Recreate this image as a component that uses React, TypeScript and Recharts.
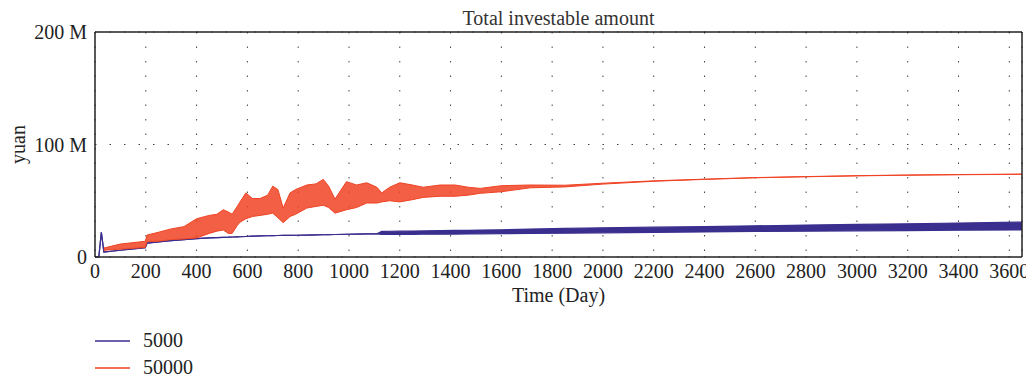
import {AreaChart, Area, XAxis, YAxis, CartesianGrid, Legend} from 'recharts';

// days, values in millions of yuan (low / high of the oscillation band)
const days = [
    0, 15, 25, 35, 100, 198, 205, 250, 300, 350,
    400, 450, 480, 505, 525, 540, 560, 571, 594, 620,
    650, 680, 700, 720, 741, 768, 790, 834, 870, 899,
    920, 945, 990, 1030, 1070, 1110, 1129, 1160, 1200, 1250,
    1292, 1359, 1418, 1470, 1517, 1600, 1713, 1850, 2000, 2200,
    2400, 2600, 2800, 3000, 3200, 3400, 3650,
];
const blueLow = [
    0, 0, 22, 4.4, 6, 8.3, 12.4, 13.5, 14.5, 15.5,
    16.4, 17, 17.3, 17.5, 17.6, 17.8, 17.9, 18, 18.2, 18.5,
    18.7, 18.9, 19, 19.1, 19.2, 19.3, 19.35, 19.5, 19.6, 19.8,
    19.9, 20, 20.2, 20.35, 20.5, 20.6, 20, 20.05, 20.1, 20.15,
    20.2, 20.3, 20.4, 20.5, 20.6, 20.8, 21, 21.2, 21.5, 21.9,
    22.3, 22.7, 23, 23.3, 23.5, 23.8, 24,
];
const blueHigh = [
    0, 0, 22, 4.4, 6, 8.3, 12.4, 13.5, 14.5, 15.5,
    16.4, 17, 17.3, 17.5, 17.6, 17.8, 17.9, 18, 18.2, 18.5,
    18.7, 18.9, 19, 19.1, 19.2, 19.3, 19.35, 19.5, 19.6, 19.8,
    19.9, 20, 20.2, 20.35, 20.5, 20.6, 22.8, 22.9, 23, 23.1,
    23.2, 23.4, 23.6, 23.75, 23.9, 24.2, 24.8, 25.4, 26, 26.5,
    27, 27.7, 28.4, 29, 29.5, 30.2, 31,
];
const redLow = [
    null, null, null, 6, 7, 8.5, 13.6, 14, 15.5, 16,
    17, 21, 23, 24, 21, 21, 28, 31, 34, 36,
    37, 38, 39, 35, 30.5, 36, 38, 43.5, 45, 46,
    44, 39, 42, 44, 48, 48, 49, 50, 49, 51,
    53, 54, 54, 55, 56.6, 58, 61.5, 62.3, 64.8, 67.3,
    69, 70.4, 71.3, 72.1, 72.7, 73.1, 73.5,
];
const redHigh = [
    null, null, null, 8, 11.5, 14, 19.5, 22, 25, 27,
    34, 37, 38, 42, 40, 38, 45, 49, 57, 52,
    52, 55, 63, 60, 43.5, 57, 60, 64, 65, 69,
    63, 51.5, 67, 64, 66, 62, 57, 62, 66, 64,
    62, 64, 64, 62, 61, 63.4, 64, 63.8, 65.6, 67.7,
    69.2, 70.6, 71.5, 72.3, 72.9, 73.3, 73.7,
];
const seriesNames = ['5000', '50000'];
const xTicks = [0, 200, 400, 600, 800, 1000, 1200, 1400, 1600, 1800, 2000, 2200, 2400, 2600, 2800, 3000, 3200, 3400, 3600];
const yTicks = [0, 100, 200];
const title = 'Total investable amount';

const BLUE = '#3a2e8e';
const RED = '#f04323';
const FONT = '"Liberation Serif", "Times New Roman", serif';
const INK = '#222';

const data = days.map((day, i) => ({
    day,
    blue: [blueLow[i], blueHigh[i]],
    red: redLow[i] == null ? null : [redLow[i], redHigh[i]],
}));

const tickStyle = {fontFamily: FONT, fontSize: 20, fill: INK};

function LegendRows({payload}: any) {
    return (
        <div style={{fontFamily: FONT, fontSize: 20, color: INK}}>
            {(payload || []).map((p: any) => (
                <div key={p.value} style={{display: 'flex', alignItems: 'center', height: 27}}>
                    <svg width={35} height={4}>
                        <line x1={0} y1={2} x2={35} y2={2} stroke={p.color} strokeWidth={1.6} />
                    </svg>
                    <span style={{marginLeft: 13, lineHeight: '27px', fontFamily: FONT}}>{p.value}</span>
                </div>
            ))}
        </div>
    );
}

function YuanLabel({viewBox}: any) {
    const x = viewBox.x + 10;
    const y = viewBox.y + viewBox.height / 2;
    return (
        <text x={x} y={y} transform={`rotate(-90, ${x}, ${y})`} textAnchor="middle" dominantBaseline="central"
              fontFamily={FONT} fontSize={20} fill={INK}>
            yuan
        </text>
    );
}

export default function App() {
    return (
        <div style={{fontFamily: FONT, position: 'relative', width: 1026, height: 375}}>
            <div style={{position: 'absolute', top: 0, left: 87, width: 927, height: 21, lineHeight: '21px',
                textAlign: 'center', fontSize: 20, color: '#333', fontFamily: FONT, zIndex: 1}}>
                {title}
            </div>
            <AreaChart width={1026} height={375} data={data} margin={{top: 23, right: 11, left: 0, bottom: 2}}
                       style={{fontFamily: FONT}}>
                <CartesianGrid stroke="#444" strokeDasharray="1.5 13" />
                <XAxis dataKey="day" type="number" domain={[0, 3650]} ticks={xTicks} interval={0}
                       tickSize={0} tickMargin={7} tick={tickStyle} stroke={INK} strokeWidth={1.5} height={70}
                       fontFamily={FONT} fontSize={20}
                       label={{value: 'Time (Day)', position: 'insideBottom', offset: 25, fontFamily: FONT,
                           fontSize: 20, fill: INK}} />
                <XAxis xAxisId="top" dataKey="day" orientation="top" type="number" domain={[0, 3650]} height={1}
                       tick={false} tickLine={false} stroke={INK} strokeWidth={1.5} />
                <YAxis type="number" domain={[0, 200]} ticks={yTicks} width={87} tickSize={0} tickMargin={8}
                       tick={tickStyle} stroke={INK} strokeWidth={1.5} fontFamily={FONT} fontSize={20}
                       tickFormatter={(v) => (v === 0 ? '0' : `${v} M`)} label={<YuanLabel />} />
                <YAxis yAxisId="right" orientation="right" type="number" domain={[0, 200]} width={1} tick={false}
                       tickLine={false} stroke={INK} strokeWidth={1.5} />
                <Legend verticalAlign="bottom" align="left" content={<LegendRows />}
                        wrapperStyle={{left: 87, width: 300}} />
                <Area name={seriesNames[0]} dataKey="blue" type="linear" stroke={BLUE} strokeWidth={1.2}
                      fill={BLUE} fillOpacity={1} dot={false} activeDot={false} isAnimationActive={false} />
                <Area name={seriesNames[1]} dataKey="red" type="linear" stroke={RED} strokeWidth={1}
                      fill={RED} fillOpacity={0.85} dot={false} activeDot={false} isAnimationActive={false} />
            </AreaChart>
        </div>
    );
}
